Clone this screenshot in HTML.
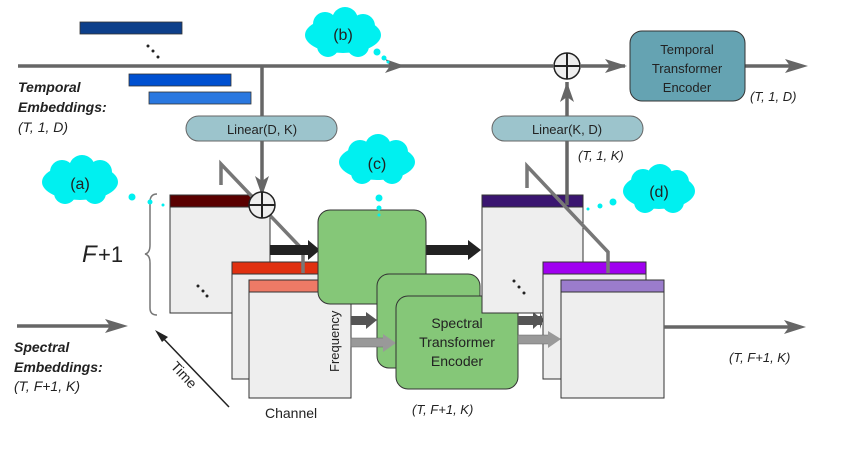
<!DOCTYPE html>
<html><head><meta charset="utf-8"><style>body{margin:0;background:#fff}svg{display:block}text{font-family:"Liberation Sans",sans-serif}</style></head><body>
<svg width="860" height="450" viewBox="0 0 860 450" xmlns="http://www.w3.org/2000/svg">
<!-- blue bars -->
<rect x="80" y="22" width="102" height="12" fill="#0d3f8a" stroke="#333" stroke-width="0.8"/>
<rect x="129" y="74" width="102" height="12" fill="#0050d0" stroke="#333" stroke-width="0.8"/>
<rect x="149" y="92" width="102" height="12" fill="#2a78e0" stroke="#333" stroke-width="0.8"/>
<circle cx="148" cy="46" r="1.5" fill="#222"/><circle cx="153" cy="51" r="1.5" fill="#222"/><circle cx="158" cy="57" r="1.5" fill="#222"/>
<!-- top line -->
<line x1="18" y1="66" x2="553" y2="66" stroke="#666" stroke-width="3.5"/>
<path d="M385,59 L405,66 L385,73 L390,66z" fill="#666"/>
<line x1="581" y1="66" x2="625" y2="66" stroke="#666" stroke-width="3.5"/>
<path d="M605,59 L627,66 L605,73 L610,66z" fill="#666"/>
<line x1="745" y1="66" x2="800" y2="66" stroke="#666" stroke-width="3.5"/>
<path d="M785,59 L808,66 L785,73 L790,66z" fill="#666"/>
<circle cx="567" cy="66" r="13" fill="#eee" stroke="#222" stroke-width="1.5"/>
<line x1="554" y1="66" x2="580" y2="66" stroke="#222" stroke-width="2"/><line x1="567" y1="53" x2="567" y2="79" stroke="#222" stroke-width="2"/>
<rect x="630" y="31" width="115" height="70" rx="12" fill="#65a3b2" stroke="#333" stroke-width="1"/>
<text x="687" y="54" font-size="13" text-anchor="middle" fill="#222">Temporal</text>
<text x="687" y="73" font-size="13" text-anchor="middle" fill="#222">Transformer</text>
<text x="687" y="92" font-size="13" text-anchor="middle" fill="#222">Encoder</text>
<text x="750" y="101" font-size="13" font-style="italic" fill="#222">(T,  1, D)</text>
<!-- temporal labels -->
<text x="18" y="92" font-size="14" font-weight="bold" font-style="italic" fill="#222">Temporal</text>
<text x="18" y="112" font-size="14" font-weight="bold" font-style="italic" fill="#222">Embeddings:</text>
<text x="18" y="132" font-size="14" font-style="italic" fill="#222">(T,  1, D)</text>
<!-- left boxes -->
<rect x="170" y="195" width="100" height="118" fill="#eee" stroke="#333"/>
<rect x="170" y="195" width="100" height="12" fill="#5a0000" stroke="#333"/>
<circle cx="198" cy="286" r="1.5" fill="#222"/><circle cx="203" cy="291" r="1.5" fill="#222"/><circle cx="207" cy="296" r="1.5" fill="#222"/>
<rect x="232" y="262" width="101" height="117" fill="#eee" stroke="#333"/>
<rect x="232" y="262" width="101" height="12" fill="#e03010" stroke="#333"/>
<rect x="249" y="280" width="102" height="118" fill="#eee" stroke="#333"/>
<rect x="249" y="280" width="102" height="12" fill="#ee7a66" stroke="#333"/>
<text transform="translate(339,372) rotate(-90)" font-size="13" fill="#222">Frequency</text>
<text x="265" y="418" font-size="14" fill="#222">Channel</text>
<!-- linear D,K -->
<line x1="262" y1="66" x2="262" y2="195" stroke="#666" stroke-width="3.5"/>
<path d="M255,176 L262,196 L269,176 L262,181z" fill="#666"/>
<rect x="186" y="116" width="151" height="25" rx="12.5" fill="#9cc4cc" stroke="#666" stroke-width="1"/>
<text x="262" y="134" font-size="13" text-anchor="middle" fill="#222">Linear(D, K)</text>
<polyline points="221,185 221,164 303,250 303,273" fill="none" stroke="#777" stroke-width="3.5"/>
<circle cx="262" cy="205" r="13" fill="#eee" stroke="#222" stroke-width="1.5"/>
<line x1="249" y1="205" x2="275" y2="205" stroke="#222" stroke-width="2"/><line x1="262" y1="192" x2="262" y2="218" stroke="#222" stroke-width="2"/>
<!-- thick arrows -->
<rect x="270" y="245" width="40" height="10" fill="#222"/><path d="M308,240 L320,250 L308,260z" fill="#222"/>
<rect x="426" y="245" width="44" height="10" fill="#222"/><path d="M468,240 L481,250 L468,260z" fill="#222"/>
<!-- green boxes -->
<rect x="318" y="210" width="108" height="94" rx="12" fill="#85c778" stroke="#333"/>
<rect x="351" y="316" width="17" height="9" fill="#555"/><path d="M366,312 L377,320 L366,329z" fill="#555"/>
<rect x="377" y="274" width="103" height="94" rx="12" fill="#85c778" stroke="#333"/>
<rect x="351" y="338" width="33" height="9" fill="#999" stroke="#666" stroke-width="0.5"/><path d="M383,334 L396,343 L383,352z" fill="#999"/>
<rect x="396" y="296" width="122" height="93" rx="12" fill="#85c778" stroke="#333"/>
<text x="457" y="328" font-size="14" text-anchor="middle" fill="#222">Spectral</text>
<text x="457" y="347" font-size="14" text-anchor="middle" fill="#222">Transformer</text>
<text x="457" y="366" font-size="14" text-anchor="middle" fill="#222">Encoder</text>
<text x="412" y="414" font-size="13" font-style="italic" fill="#222">(T,  F+1, K)</text>
<!-- right boxes -->
<rect x="482" y="195" width="101" height="118" fill="#eee" stroke="#333"/>
<rect x="482" y="195" width="101" height="12" fill="#3a1570" stroke="#333"/>
<circle cx="514" cy="281" r="1.5" fill="#222"/><circle cx="519" cy="287" r="1.5" fill="#222"/><circle cx="524" cy="293" r="1.5" fill="#222"/>
<rect x="518" y="316" width="24" height="9" fill="#555"/><path d="M540,312 L543,320 L540,329z" fill="#555"/>
<rect x="543" y="262" width="103" height="117" fill="#eee" stroke="#333"/>
<rect x="543" y="262" width="103" height="12" fill="#a000f0" stroke="#333"/>
<path d="M533,312 L543,320 L533,329z" fill="#555"/>
<rect x="518" y="335" width="32" height="9" fill="#999" stroke="#666" stroke-width="0.5"/><path d="M548,331 L561,339 L548,348z" fill="#999"/>
<rect x="561" y="280" width="103" height="118" fill="#eee" stroke="#333"/>
<rect x="561" y="280" width="103" height="12" fill="#9b7ccc" stroke="#333"/>
<polyline points="527,188 527,166 608,252 608,273" fill="none" stroke="#777" stroke-width="3.5"/>
<line x1="567" y1="205" x2="567" y2="82" stroke="#666" stroke-width="3.5"/>
<path d="M560,102 L567,82 L574,102 L567,97z" fill="#666"/>
<rect x="492" y="116" width="151" height="25" rx="12.5" fill="#9cc4cc" stroke="#666" stroke-width="1"/>
<text x="567" y="134" font-size="13" text-anchor="middle" fill="#222">Linear(K, D)</text>
<text x="578" y="160" font-size="13" font-style="italic" fill="#222">(T,  1, K)</text>
<line x1="664" y1="327" x2="798" y2="327" stroke="#666" stroke-width="3.5"/>
<path d="M784,320 L806,327 L784,334 L789,327z" fill="#666"/>
<text x="729" y="362" font-size="13" font-style="italic" fill="#222">(T,  F+1, K)</text>
<!-- spectral left -->
<line x1="17" y1="326" x2="120" y2="326" stroke="#666" stroke-width="3.5"/>
<path d="M105,319 L128,326 L105,333 L110,326z" fill="#666"/>
<text x="14" y="352" font-size="14" font-weight="bold" font-style="italic" fill="#222">Spectral</text>
<text x="14" y="372" font-size="14" font-weight="bold" font-style="italic" fill="#222">Embeddings:</text>
<text x="14" y="391" font-size="14" font-style="italic" fill="#222">(T,  F+1, K)</text>
<text x="82" y="262" font-size="24" font-style="italic" font-family="Liberation Serif" fill="#222">F</text><text x="98" y="262" font-size="22" font-family="Liberation Serif" fill="#222">+1</text>
<path d="M157,194 Q150,194 150,202 L150,245 Q150,253 145,254 Q150,255 150,263 L150,308 Q150,315 157,315" fill="none" stroke="#777" stroke-width="1.5"/>
<line x1="229" y1="407" x2="160" y2="335" stroke="#222" stroke-width="1.5"/>
<path d="M155,330 L168,337 L162,342z" fill="#222"/>
<text transform="translate(170,367) rotate(47)" font-size="14" fill="#222">Time</text>
<!-- clouds -->
<g fill="#00f0f0">
<ellipse cx="80" cy="182" rx="38" ry="18"/><circle cx="62" cy="172" r="12"/><circle cx="82" cy="168" r="13"/><circle cx="100" cy="172" r="12"/><circle cx="65" cy="193" r="11"/><circle cx="95" cy="193" r="11"/>
<circle cx="132" cy="197" r="3.5"/><circle cx="150" cy="202" r="2.5"/><circle cx="163" cy="205" r="1.5"/>
<ellipse cx="343" cy="35" rx="38" ry="18"/><circle cx="325" cy="24" r="12"/><circle cx="345" cy="20" r="13"/><circle cx="363" cy="26" r="12"/><circle cx="328" cy="46" r="11"/><circle cx="358" cy="46" r="11"/>
<circle cx="377" cy="52" r="3.5"/><circle cx="384" cy="58" r="2.5"/><circle cx="388" cy="62" r="1.5"/>
<ellipse cx="377" cy="162" rx="38" ry="18"/><circle cx="360" cy="152" r="12"/><circle cx="378" cy="147" r="13"/><circle cx="396" cy="152" r="12"/><circle cx="362" cy="173" r="11"/><circle cx="392" cy="173" r="11"/>
<circle cx="379" cy="198" r="3.5"/><circle cx="379" cy="208" r="2.5"/><circle cx="379" cy="215" r="1.5"/>
<ellipse cx="659" cy="191" rx="36" ry="18"/><circle cx="643" cy="181" r="12"/><circle cx="660" cy="177" r="13"/><circle cx="677" cy="182" r="12"/><circle cx="645" cy="202" r="11"/><circle cx="673" cy="202" r="11"/>
<circle cx="613" cy="202" r="3.5"/><circle cx="600" cy="206" r="2.5"/><circle cx="588" cy="209" r="1.5"/>
</g>
<text x="80" y="189" font-size="16" text-anchor="middle" fill="#222">(a)</text>
<text x="343" y="40" font-size="16" text-anchor="middle" fill="#222">(b)</text>
<text x="377" y="169" font-size="16" text-anchor="middle" fill="#222">(c)</text>
<text x="659" y="197" font-size="16" text-anchor="middle" fill="#222">(d)</text>
</svg>
</body></html>
